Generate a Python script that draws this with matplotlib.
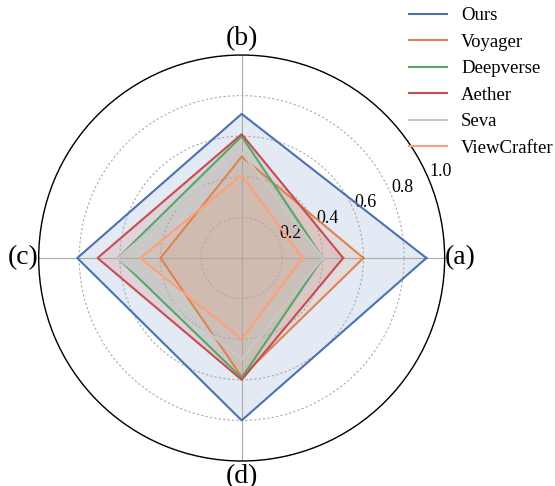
import numpy as np
import matplotlib.pyplot as plt

plt.rcParams['font.family'] = ['Liberation Serif', 'DejaVu Serif']

# ============================================================
# data
# ============================================================
axes_labels = ['(a)', '(b)', '(c)', '(d)']
methods = ['Ours', 'Voyager', 'Deepverse', 'Aether', 'Seva', 'ViewCrafter']

ours = [0.91, 0.71, 0.81, 0.80]
voyager = [0.60, 0.50, 0.40, 0.585]
deepverse = [0.40, 0.60, 0.61, 0.59]
aether = [0.50, 0.61, 0.71, 0.60]
seva = [0.40, 0.52, 0.61, 0.50]
viewcrafter = [0.30, 0.41, 0.50, 0.40]

colors = ['#4C72B0', '#DD8452', '#55A868', '#C44E52', '#C8C8C8', '#FFA07A']
series = [ours, voyager, deepverse, aether, seva, viewcrafter]

# ============================================================
# plot
# ============================================================
fig = plt.figure(figsize=(5.55, 4.86), dpi=100)
ax = fig.add_axes([0.0697, 0.0514, 0.7315, 0.8354], polar=True)

angles = np.linspace(0, 2 * np.pi, len(axes_labels), endpoint=False)
angles_c = np.concatenate([angles, angles[:1]])

for name, vals, c in zip(methods, series, colors):
    v = np.concatenate([vals, vals[:1]])
    ax.plot(angles_c, v, color=c, linewidth=1.5, label=name)
    ax.fill(angles_c, v, color=c, alpha=0.15)

ax.set_ylim(0, 1)
ax.set_yticks([0.2, 0.4, 0.6, 0.8, 1.0])
ax.set_yticklabels(['0.2', '0.4', '0.6', '0.8', '1.0'], fontsize=13)
ax.set_rlabel_position(22.5)
ax.set_thetagrids(np.degrees(angles), axes_labels, fontsize=20)
ax.tick_params(axis='x', pad=1)

ax.yaxis.grid(True, color='#aaaaaa', linestyle=(0, (2, 2)), linewidth=0.8)
ax.xaxis.grid(True, color='#aaaaaa', linestyle='-', linewidth=0.8)
ax.spines['polar'].set_color('black')
ax.spines['polar'].set_linewidth(1.0)

fig.legend(loc='upper right', bbox_to_anchor=(1.028, 1.02), frameon=False,
           fontsize=13.5, handlelength=2.0, handletextpad=0.75,
           labelspacing=0.5)

fig.savefig('out.png', dpi=100)
